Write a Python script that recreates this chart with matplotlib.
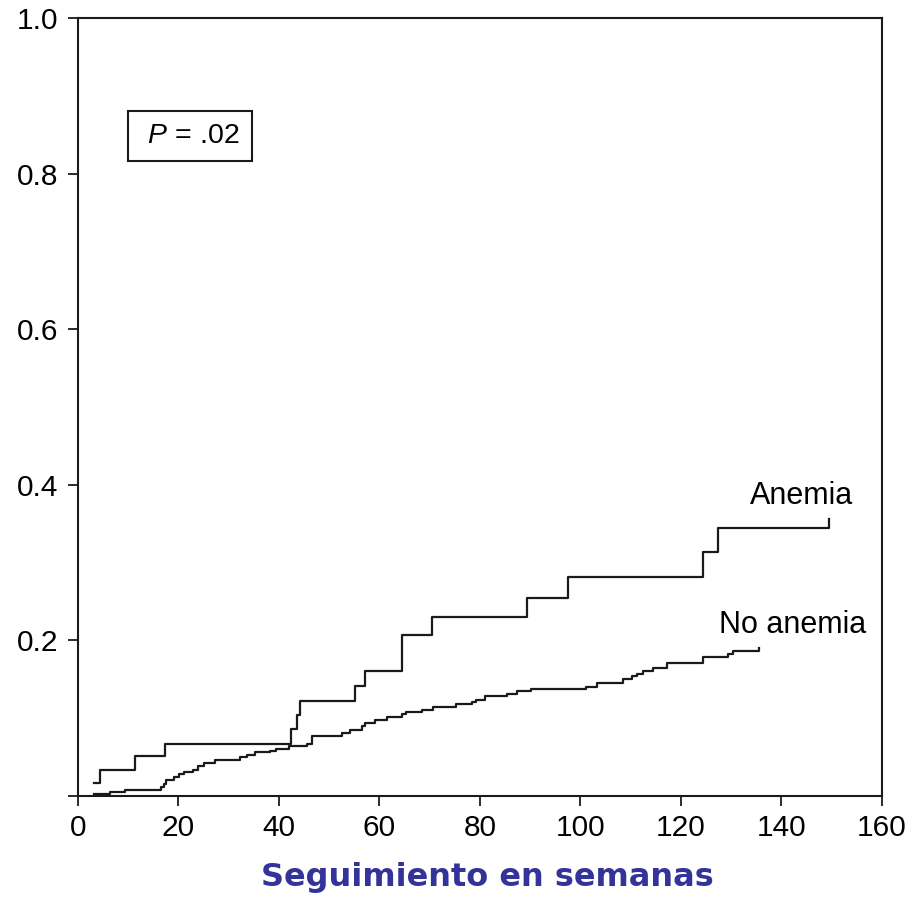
import matplotlib
matplotlib.use('Agg')
import matplotlib.pyplot as plt

# Kaplan-Meier style step curves (weeks, cumulative incidence)
anemia_t = [3.2, 4.4, 11.3, 17.4, 42.3, 43.5, 44.2, 55.2, 57.2, 64.4, 70.4,
            89.3, 97.5, 124.3, 127.3, 149.5, 149.5]
anemia_v = [0.017, 0.034, 0.051, 0.067, 0.086, 0.104, 0.122, 0.141, 0.161, 0.207, 0.230,
            0.255, 0.281, 0.313, 0.345, 0.345, 0.356]

noanemia_t = [3.2, 6.4, 9.3, 16.5, 17.1, 17.6, 19.2, 20.2, 21.2, 22.9, 23.9, 25.1,
              27.3, 32.2, 33.6, 35.2, 38.2, 39.5, 41.9, 45.5, 46.5, 52.5, 54.1, 56.5,
              57.1, 59.1, 61.4, 64.4, 65.3, 68.4, 70.7, 75.2, 78.5, 79.2, 81.1, 85.3,
              87.3, 90.1, 101.2, 103.3, 108.4, 110.2, 111.2, 112.4, 114.5, 117.2, 124.4,
              129.4, 130.4, 135.6, 135.6]
noanemia_v = [0.002, 0.005, 0.008, 0.011, 0.015, 0.020, 0.024, 0.028, 0.031, 0.033, 0.038, 0.043,
              0.046, 0.050, 0.053, 0.056, 0.058, 0.061, 0.064, 0.067, 0.0775, 0.081, 0.085, 0.090,
              0.094, 0.098, 0.101, 0.105, 0.108, 0.111, 0.115, 0.118, 0.121, 0.124, 0.129, 0.131,
              0.1345, 0.1375, 0.1405, 0.1455, 0.150, 0.154, 0.157, 0.1605, 0.164, 0.1705, 0.178,
              0.1825, 0.186, 0.186, 0.190]

xticks = [0, 20, 40, 60, 80, 100, 120, 140, 160]
yticks = [0, 0.2, 0.4, 0.6, 0.8, 1.0]
ytick_labels = ['', '0.2', '0.4', '0.6', '0.8', '1.0']

plt.rcParams['font.family'] = ['Liberation Sans', 'DejaVu Sans']
plt.rcParams['mathtext.fontset'] = 'custom'
plt.rcParams['mathtext.it'] = 'Liberation Sans:italic'
plt.rcParams['mathtext.rm'] = 'Liberation Sans'

fig = plt.figure(figsize=(9.13, 8.99), dpi=100)
ax = fig.add_axes([0.0854, 0.1146, 0.8806, 0.8654])

ax.plot(anemia_t, anemia_v, drawstyle='steps-post', color='#1a1a1a', lw=1.6)
ax.plot(noanemia_t, noanemia_v, drawstyle='steps-post', color='#1a1a1a', lw=1.6)

ax.set_xlim(0, 160)
ax.set_ylim(0, 1.0)
ax.set_xticks(xticks)
ax.set_yticks(yticks)
ax.set_yticklabels(ytick_labels)
ax.tick_params(direction='out', length=7, width=1.3, labelsize=21.5, color='#1a1a1a')
ax.tick_params(axis='y', pad=7)
ax.tick_params(axis='x', pad=6)
for s in ax.spines.values():
	s.set_linewidth(1.5)
	s.set_color('#1a1a1a')

ax.text(144.0, 0.385, 'Anemia', fontsize=22, ha='center', va='center')
ax.text(142.3, 0.220, 'No anemia', fontsize=22, ha='center', va='center')
ax.text(22.3, 0.848, ' $P$ = .02 ', fontsize=20.5, ha='center', va='center',
	bbox=dict(boxstyle='square,pad=0.42', fc='white', ec='#1a1a1a', lw=1.5))

ax.set_xlabel('Seguimiento en semanas', fontsize=23, fontweight='bold', color='#333399',
	labelpad=18, family='DejaVu Sans')
ax.xaxis.set_label_coords(0.509, -0.085)

fig.savefig('out.png', dpi=100)
